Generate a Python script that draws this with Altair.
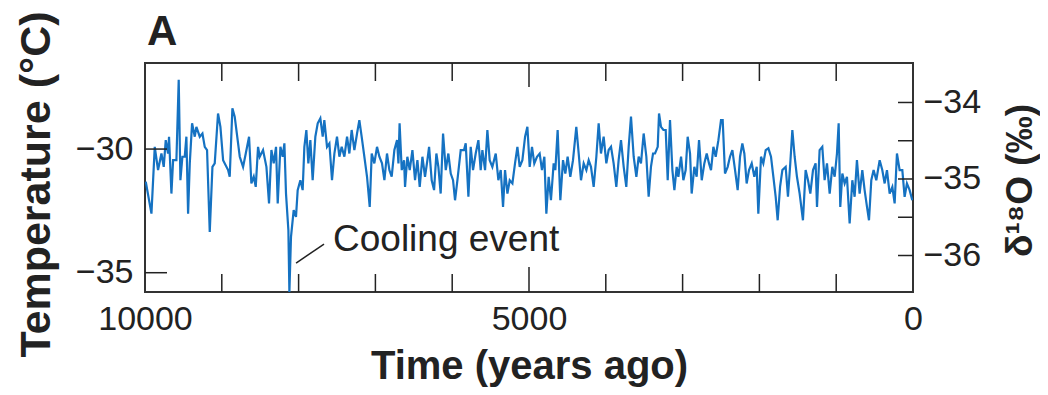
import altair as alt
import pandas as pd

# ---- data (years before present, temperature in deg C) ----
yrs_a = [9990, 9916, 9873, 9830, 9786, 9756, 9730, 9700, 9687, 9656, 9634, 9591, 9561, 9539,
         9513, 9483, 9461, 9439, 9417, 9387, 9352, 9331, 9287, 9252, 9222, 9192, 9157, 9122,
         9092, 9049, 9018, 8983, 8918, 8897, 8862, 8832, 8766, 8723, 8688, 8645, 8615, 8584,
         8558, 8528, 8506, 8463, 8419, 8385, 8354]
tmp_a = [-31.32, -32.61, -29.91, -30.85, -30.18, -30.72, -29.64, -30.18, -29.5, -31.8, -30.45,
         -30.45, -27.2, -31.26, -30.31, -30.31, -29.5, -32.61, -30.58, -28.96, -29.5, -29.1,
         -29.5, -29.37, -29.91, -30.04, -33.35, -30.72, -30.58, -28.56, -29.1, -30.45, -30.85,
         -31.12, -28.35, -28.69, -30.31, -30.72, -30.18, -29.5, -31.39, -31.12, -31.53, -29.91,
         -30.31, -30.04, -30.72, -32.2, -30.04]

yrs_b = [8324, 8294, 8272, 8237, 8207, 8185, 8164, 8133, 8120, 8099, 8064, 8034, 8012, 7977,
         7947, 7925, 7899, 7873, 7847, 7817, 7782, 7751, 7717, 7686, 7665, 7630, 7599, 7565,
         7534, 7500, 7469, 7439, 7404, 7369, 7339, 7309, 7274, 7239, 7209, 7179, 7144, 7109,
         7074, 7048, 7014, 6979, 6948, 6914, 6883, 6849, 6818, 6788, 6753, 6718, 6700]
tmp_b = [-30.58, -29.91, -32.2, -29.91, -30.31, -29.77, -31.8, -33.28, -35.78, -33.55, -32.47,
         -32.74, -31.66, -31.26, -31.66, -29.91, -29.23, -30.58, -29.64, -31.26, -29.5, -28.96,
         -28.76, -29.5, -28.83, -29.91, -29.77, -31.26, -30.18, -29.5, -30.31, -29.91, -30.31,
         -29.5, -30.18, -29.23, -30.04, -29.37, -28.83, -29.5, -30.31, -31.12, -32.34, -30.18,
         -30.58, -29.91, -30.31, -30.58, -31.26, -30.18, -30.85, -31.12, -30.04, -29.64, -30.58]

yrs_c = [6685, 6657, 6627, 6614, 6584, 6553, 6518, 6484, 6453, 6423, 6388, 6354, 6323, 6301,
         6267, 6236, 6206, 6180, 6150, 6119, 6084, 6050, 6019, 5989, 5963, 5932, 5889, 5846,
         5824, 5789, 5759, 5729, 5694, 5659, 5629, 5607, 5572, 5542, 5512, 5477, 5433, 5399,
         5368, 5338, 5312, 5281, 5251, 5216, 5182, 5151, 5121, 5086, 5051, 5021]
tmp_c = [-28.96, -30.85, -30.45, -31.53, -30.31, -30.85, -30.04, -31.26, -30.45, -31.53,
         -30.31, -31.12, -30.45, -29.91, -31.26, -31.66, -30.18, -30.72, -31.8, -29.37, -30.85,
         -30.18, -30.99, -31.26, -32.07, -31.26, -30.04, -30.04, -29.77, -31.93, -29.91, -30.85,
         -30.18, -29.64, -30.85, -30.04, -30.85, -29.23, -30.45, -30.72, -30.18, -31.26, -30.85,
         -32.34, -30.85, -31.8, -31.26, -31.39, -30.58, -29.91, -30.72, -30.45, -29.5, -29.1]

yrs_d = [4991, 4961, 4931, 4896, 4861, 4831, 4800, 4774, 4744, 4714, 4679, 4657, 4627, 4592,
         4557, 4527, 4497, 4462, 4427, 4384, 4353, 4323, 4288, 4253, 4223, 4193, 4158, 4123,
         4093, 4063, 4028, 3993, 3963, 3932, 3898, 3863, 3833, 3802, 3767, 3733, 3702, 3672,
         3637, 3602, 3572, 3542, 3507, 3472, 3442, 3412, 3385]
tmp_d = [-30.72, -29.91, -30.58, -30.31, -30.18, -30.85, -30.31, -32.61, -31.12, -32.07,
         -30.58, -30.85, -29.23, -32.07, -30.45, -30.99, -30.31, -31.12, -30.45, -29.1, -30.18,
         -31.26, -30.58, -30.85, -30.45, -30.72, -31.53, -30.31, -28.96, -30.18, -29.5, -30.58,
         -30.04, -29.91, -30.58, -31.53, -30.45, -29.64, -30.72, -31.53, -29.91, -28.69, -30.31,
         -31.12, -30.31, -30.58, -29.37, -30.31, -31.93, -30.72, -30.18]

yrs_e = [3359, 3324, 3307, 3281, 3250, 3220, 3194, 3164, 3133, 3107, 3077, 3055, 3020, 2990,
         2960, 2934, 2903, 2882, 2847, 2817, 2786, 2751, 2717, 2686, 2656, 2630, 2599, 2569,
         2534, 2500, 2478, 2448, 2413, 2383, 2352, 2317, 2283, 2252, 2222, 2196, 2166, 2135,
         2100, 2066, 2035, 2014, 1979, 1949, 1918, 1883, 1849, 1818, 1788, 1762, 1731, 1701]
tmp_e = [-30.18, -29.91, -28.56, -29.1, -29.23, -29.23, -31.26, -28.83, -30.85, -31.66, -30.72,
         -31.12, -30.31, -31.26, -30.85, -29.5, -30.18, -31.8, -30.72, -31.12, -29.64, -31.26,
         -30.58, -30.18, -30.58, -30.85, -29.91, -30.31, -29.64, -28.83, -28.83, -30.99, -30.72,
         -30.31, -30.04, -30.85, -31.66, -30.31, -29.77, -30.18, -31.39, -30.85, -30.58, -31.12,
         -30.72, -32.61, -30.31, -30.58, -30.04, -29.97, -30.31, -31.12, -31.93, -32.88, -31.53,
         -30.85]

yrs_f = [1658, 1628, 1598, 1571, 1541, 1511, 1476, 1433, 1398, 1367, 1337, 1302, 1268, 1250,
         1216, 1181, 1151, 1120, 1085, 1051, 1020, 990, 968, 947, 920, 890, 860, 825, 790, 760,
         730, 695, 660, 630, 599, 573, 543, 513, 478, 434, 400, 369, 339, 304, 269, 239, 209,
         174, 139, 109, 79, 44, 9]
tmp_f = [-30.72, -31.93, -30.58, -29.23, -30.31, -31.12, -31.8, -32.88, -30.85, -31.26, -31.8,
         -30.85, -30.58, -32.34, -30.04, -29.91, -31.26, -30.58, -31.8, -30.72, -31.12, -30.18,
         -28.96, -32.34, -30.99, -31.39, -31.12, -33.01, -31.26, -31.93, -30.45, -31.8, -30.85,
         -31.66, -32.34, -32.88, -31.26, -30.85, -31.26, -30.45, -30.85, -31.39, -30.85, -31.8,
         -31.53, -32.2, -30.18, -30.85, -30.85, -31.93, -31.39, -31.66, -32.07]

years = yrs_a + yrs_b + yrs_c + yrs_d + yrs_e + yrs_f
temps = tmp_a + tmp_b + tmp_c + tmp_d + tmp_e + tmp_f

# axis values
x_label_years = [10000, 5000, 0]
x_minor_ticks = [9000, 8000, 7000, 6000, 4000, 3000, 2000, 1000]
x_major_ticks = [5000]
temp_ticks = [-30, -35]
d18o_ticks = [-34, -34.5, -35, -35.5, -36]
d18o_labels = [-34, -35, -36]

# annotation
annot_text = ["Cooling event"]
annot_year = [7552]
annot_temp = [-33.68]
leader_year = [8033]
leader_year2 = [7669]
leader_temp = [-34.61]
leader_temp2 = [-33.84]

# ---- chart ----
W, H = 768, 229
FONT = "Liberation Sans"
INK = "#222222"
BLUE = "#1572c2"

xscale = alt.Scale(domain=[0, 10000], reverse=True, nice=False, zero=False)
tscale = alt.Scale(domain=[-35.78, -26.52], nice=False, zero=False)
dscale = alt.Scale(domain=[-36.477, -33.484], nice=False, zero=False)

series = pd.DataFrame({"year": years, "temp": temps})

line = alt.Chart(series).mark_line(color=BLUE, strokeWidth=2.2, clip=True).encode(
    x=alt.X("year:Q", scale=xscale,
            axis=alt.Axis(values=x_label_years, format="d", title="Time (years ago)",
                          labelPadding=10, labelFlush=False, titleX=W / 2, titleY=86,
                          titleFontSize=40,
                          titleBaseline="alphabetic", titleAlign="center")),
    y=alt.Y("temp:Q", scale=tscale,
            axis=alt.Axis(values=temp_ticks, title="Temperature (°C)", labelPadding=12,
                          titleAngle=270, titleX=-109, titleY=121, titleFontSize=43,
                          titleAlign="center", titleBaseline="middle")),
)

minor_df = pd.DataFrame({"year": x_minor_ticks})
major_df = pd.DataFrame({"year": x_major_ticks})
tick_x = alt.X("year:Q", scale=xscale)

top_minor = alt.Chart(minor_df).mark_rule(color=INK, strokeWidth=1.5).encode(
    x=tick_x, y=alt.value(0), y2=alt.value(18))
bot_minor = alt.Chart(minor_df).mark_rule(color=INK, strokeWidth=1.5).encode(
    x=tick_x, y=alt.value(H - 18), y2=alt.value(H))
top_major = alt.Chart(major_df).mark_rule(color=INK, strokeWidth=1.5).encode(
    x=tick_x, y=alt.value(0), y2=alt.value(24))
bot_major = alt.Chart(major_df).mark_rule(color=INK, strokeWidth=1.5).encode(
    x=tick_x, y=alt.value(H - 25), y2=alt.value(H))

left_ticks = alt.Chart(pd.DataFrame({"temp": temp_ticks})).mark_rule(
    color=INK, strokeWidth=1.5).encode(
    y=alt.Y("temp:Q", scale=tscale, axis=None), x=alt.value(0), x2=alt.value(22))

annot = alt.Chart(pd.DataFrame({"year": annot_year, "temp": annot_temp, "t": annot_text})).mark_text(
    align="left", baseline="middle", font=FONT, fontSize=37, color=INK).encode(
    x=alt.X("year:Q", scale=xscale),
    y=alt.Y("temp:Q", scale=tscale, axis=None), text="t:N")

leader = alt.Chart(pd.DataFrame({"year": leader_year, "year2": leader_year2,
                                 "temp": leader_temp, "temp2": leader_temp2})).mark_rule(
    color=INK, strokeWidth=1.5).encode(
    x=alt.X("year:Q", scale=xscale), x2="year2:Q",
    y=alt.Y("temp:Q", scale=tscale, axis=None), y2="temp2:Q")

panel = alt.Chart(pd.DataFrame({"t": ["A"]})).mark_text(
    align="left", baseline="alphabetic", font=FONT, fontSize=42, fontWeight="bold",
    color=INK).encode(text="t:N", x=alt.value(2), y=alt.value(-18))

right_ticks = alt.Chart(pd.DataFrame({"d18o": d18o_ticks})).mark_rule(
    color=INK, strokeWidth=1.5).encode(
    y=alt.Y("d18o:Q", scale=dscale,
            axis=alt.Axis(orient="right", values=d18o_labels, title="δ¹⁸O (‰)",
                          labelPadding=10, titleAngle=270, titleX=107, titleY=117,
                          titleFontSize=37,
                          titleAlign="center", titleBaseline="middle")),
    x=alt.value(W - 15), x2=alt.value(W))

chart = alt.layer(line, top_minor, bot_minor, top_major, bot_major, left_ticks,
                  leader, annot, panel, right_ticks).resolve_scale(
    y="independent").resolve_axis(y="independent").properties(
    width=W, height=H,
    autosize=alt.AutoSizeParams(type="none"),
    padding={"left": 137, "top": 55, "right": 127, "bottom": 95},
).configure_view(stroke="#333333", strokeWidth=2).configure_axis(
    grid=False, domain=False, ticks=False, tickSize=0,
    labelFont=FONT, labelFontSize=34, labelColor=INK,
    titleFont=FONT, titleFontSize=41, titleFontWeight="bold", titleColor=INK,
)

chart.save("out.html", embed_options={"renderer": "svg", "actions": False})
